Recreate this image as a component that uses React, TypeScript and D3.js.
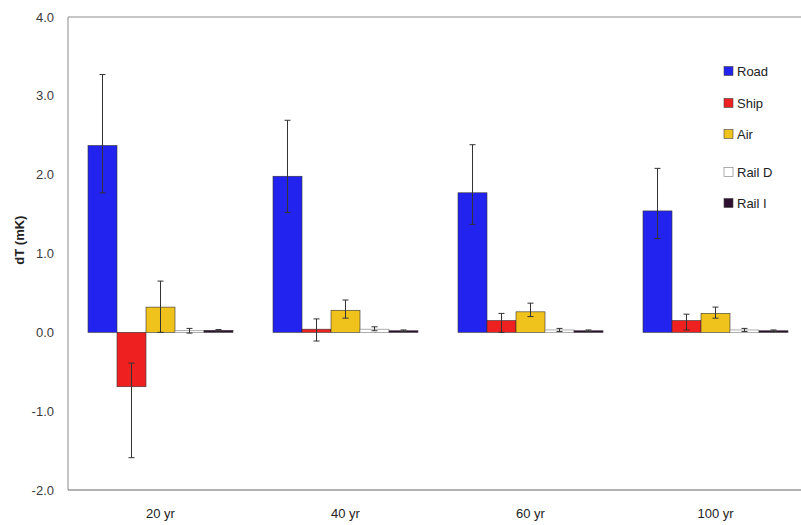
import React from "react";
import * as d3 from "d3";

const categories = ["20 yr", "40 yr", "60 yr", "100 yr"];
const seriesNames = ["Road", "Ship", "Air", "Rail D", "Rail I"];
const seriesColors = ["#2323ef", "#ee2020", "#f0c21c", "#ffffff", "#2e1030"];
// values per series, per category
const roadValues = [2.37, 1.98, 1.77, 1.54];
const shipValues = [-0.69, 0.04, 0.15, 0.15];
const airValues = [0.32, 0.28, 0.26, 0.24];
const railDValues = [0.02, 0.04, 0.03, 0.03];
const railIValues = [0.025, 0.02, 0.02, 0.02];
// error bar upper and lower ends
const roadHigh = [3.27, 2.69, 2.38, 2.08];
const roadLow = [1.77, 1.52, 1.37, 1.19];
const shipHigh = [-0.39, 0.17, 0.24, 0.23];
const shipLow = [-1.59, -0.11, 0.0, 0.03];
const airHigh = [0.65, 0.41, 0.37, 0.32];
const airLow = [0.0, 0.18, 0.2, 0.18];
const railDHigh = [0.05, 0.07, 0.05, 0.05];
const railDLow = [-0.01, 0.02, 0.01, 0.01];
const railIHigh = [0.035, 0.03, 0.03, 0.03];
const railILow = [0.015, 0.01, 0.01, 0.01];
const yTicks = [-2, -1, 0, 1, 2, 3, 4];

const values = [roadValues, shipValues, airValues, railDValues, railIValues];
const highs = [roadHigh, shipHigh, airHigh, railDHigh, railIHigh];
const lows = [roadLow, shipLow, airLow, railDLow, railILow];

export default function App() {
  const W = 801, H = 525;
  const left = 68, top = 17, bottom = 490;
  const y = d3.scaleLinear().domain([-2, 4]).range([bottom, top]);
  const x0 = d3.scaleBand().domain(categories).range([left, left + 740]).paddingInner(0).paddingOuter(0);
  const groupW = 145;
  const x1 = d3.scaleBand().domain(seriesNames).range([0, groupW]).padding(0);
  const font = "Arial, 'Liberation Sans', sans-serif";
  const y0 = y(0);
  return (
    <svg width={W} height={H} style={{ position: "absolute", left: 0, top: 0, background: "#fff" }}>
      <rect x={0} y={0} width={W} height={H} fill="#fff" />
      {/* frame */}
      <line x1={left} y1={top} x2={W} y2={top} stroke="#8a8a8a" strokeWidth={1} />
      <line x1={left} y1={top} x2={left} y2={bottom} stroke="#8a8a8a" strokeWidth={1} />
      <line x1={left} y1={bottom} x2={W} y2={bottom} stroke="#666" strokeWidth={1.2} />
      {yTicks.map((t) => (
        <text key={t} x={54} y={y(t)} dy="0.35em" textAnchor="end" fontSize={13} fill="#3a3a3a" fontFamily={font}>
          {t.toFixed(1)}
        </text>
      ))}
      <text
        transform={`translate(19, ${y(1.17)}) rotate(-90)`}
        textAnchor="middle"
        dy="0.35em"
        fontSize={13}
        fontWeight="bold"
        fill="#222"
        fontFamily={font}
      >
        dT (mK)
      </text>
      {categories.map((c, ci) => {
        const gx = (x0(c) as number) + (x0.bandwidth() - groupW) / 2;
        return (
          <g key={c}>
            {seriesNames.map((s, si) => {
              const v = values[si][ci];
              const bx = gx + (x1(s) as number);
              const bw = x1.bandwidth();
              const yTop = Math.min(y(v), y0);
              const h = Math.max(Math.abs(y(v) - y0), 1.5);
              const cx = bx + bw / 2;
              return (
                <g key={s}>
                  <rect x={bx} y={yTop} width={bw} height={h} fill={seriesColors[si]} stroke={si === 3 ? "#777" : "#333"} strokeWidth={0.6} />
                  <line x1={cx} x2={cx} y1={y(highs[si][ci])} y2={y(lows[si][ci])} stroke="#333" strokeWidth={1} />
                  <line x1={cx - 3} x2={cx + 3} y1={y(highs[si][ci])} y2={y(highs[si][ci])} stroke="#333" strokeWidth={1} />
                  <line x1={cx - 3} x2={cx + 3} y1={y(lows[si][ci])} y2={y(lows[si][ci])} stroke="#333" strokeWidth={1} />
                </g>
              );
            })}
            <text x={(x0(c) as number) + x0.bandwidth() / 2} y={518} textAnchor="middle" fontSize={13} fill="#222" fontFamily={font}>
              {c}
            </text>
          </g>
        );
      })}
      {/* legend */}
      {seriesNames.map((s, i) => {
        const ly = [71, 103, 134, 172, 203][i];
        return (
          <g key={s}>
            <rect x={724} y={ly - 4.5} width={9} height={9} fill={seriesColors[i]} stroke={i === 3 ? "#777" : "#444"} strokeWidth={0.6} />
            <text x={737} y={ly} dy="0.35em" fontSize={13} fill="#222" fontFamily={font}>
              {s}
            </text>
          </g>
        );
      })}
    </svg>
  );
}
